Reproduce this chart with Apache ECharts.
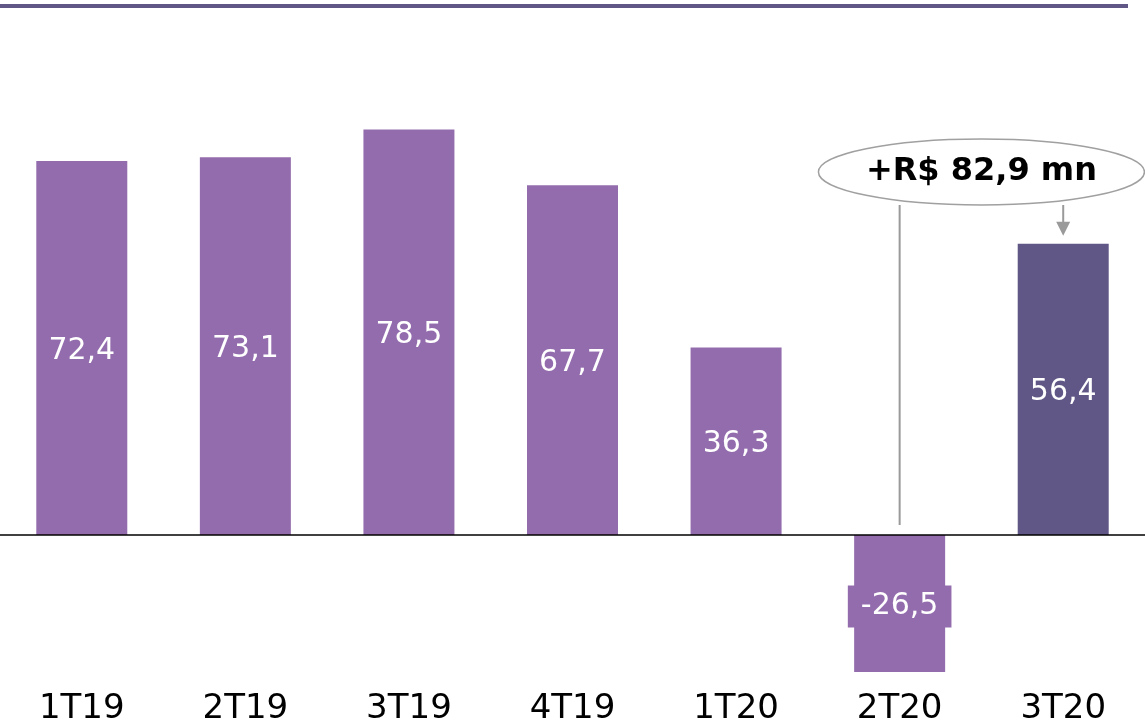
<!DOCTYPE html>
<html>
<head>
<meta charset="utf-8">
<script src="https://cdn.jsdelivr.net/npm/echarts@6/dist/echarts.min.js"></script>
<style>
  html, body { margin: 0; padding: 0; background: #fff; }
  #main { width: 1145px; height: 728px; }
</style>
</head>
<body>
<div id="main"></div>
<script>
var categories = ['1T19', '2T19', '3T19', '4T19', '1T20', '2T20', '3T20'];
var values = [72.4, 73.1, 78.5, 67.7, 36.3, -26.5, 56.4];
var highlightIndex = 6;
var calloutText = '+R$ 82,9 mn';

var FONT = 'DejaVu Sans';
var purple = '#936cad', darkPurple = '#605786';

var chart = echarts.init(document.getElementById('main'));

var barData = values.map(function (v, i) {
    var item = { value: v };
    if (i === highlightIndex) item.itemStyle = { color: darkPurple };
    if (v < 0) item.label = { backgroundColor: purple, padding: [7, 13, 5, 13] };
    return item;
});

chart.setOption({
    animation: false,
    grid: { left: -0.5, width: 1148, top: 18.4, bottom: 38 },
    xAxis: {
        type: 'category',
        data: categories,
        axisLine: { show: false, onZero: false },
        axisTick: { show: false },
        axisLabel: { color: '#000', fontSize: 34, fontFamily: FONT, margin: 2 }
    },
    yAxis: {
        type: 'value', min: -30, max: 100,
        show: false, splitLine: { show: false }
    },
    series: [{
        type: 'bar',
        barWidth: 91,
        data: barData,
        itemStyle: { color: purple },
        label: {
            show: true, position: 'inside', color: '#fff',
            fontSize: 30, fontFamily: FONT, offset: [0, 3],
            formatter: function (p) { return String(p.value).replace('.', ','); }
        },
        markLine: {
            silent: true, symbol: 'none', label: { show: false },
            lineStyle: { color: '#000', width: 1.5, type: 'solid' },
            data: [{ yAxis: 0 }]
        }
    }]
});

// callout annotation
var p2 = chart.convertToPixel({ seriesIndex: 0 }, [5, 0]);
var p3 = chart.convertToPixel({ seriesIndex: 0 }, [6, values[6]]);
var cx = (p2[0] + p3[0]) / 2, cy = 172;
var rx = 163, ry = 33;

chart.setOption({
    graphic: [
        { type: 'rect', shape: { x: 0, y: 4, width: 1128, height: 4 }, style: { fill: darkPurple } },
        { type: 'line', shape: { x1: p2[0], y1: cy + ry, x2: p2[0], y2: p2[1] - 10 }, style: { stroke: '#9a9a9a', lineWidth: 2 } },
        { type: 'line', shape: { x1: p3[0], y1: cy + ry, x2: p3[0], y2: p3[1] - 20 }, style: { stroke: '#9a9a9a', lineWidth: 2 } },
        { type: 'polygon', shape: { points: [[p3[0] - 7, p3[1] - 22], [p3[0] + 7, p3[1] - 22], [p3[0], p3[1] - 8]] }, style: { fill: '#9a9a9a' } },
        { type: 'ellipse', shape: { cx: cx, cy: cy, rx: rx, ry: ry }, style: { fill: '#fff', stroke: '#a0a0a0', lineWidth: 1.5 }, z: 10 },
        { type: 'text', x: cx, y: cy, z: 11, style: { text: calloutText, fontSize: 32, fontWeight: 'bold', fontFamily: FONT, fill: '#000', align: 'center', verticalAlign: 'middle' } }
    ]
});
</script>
</body>
</html>
